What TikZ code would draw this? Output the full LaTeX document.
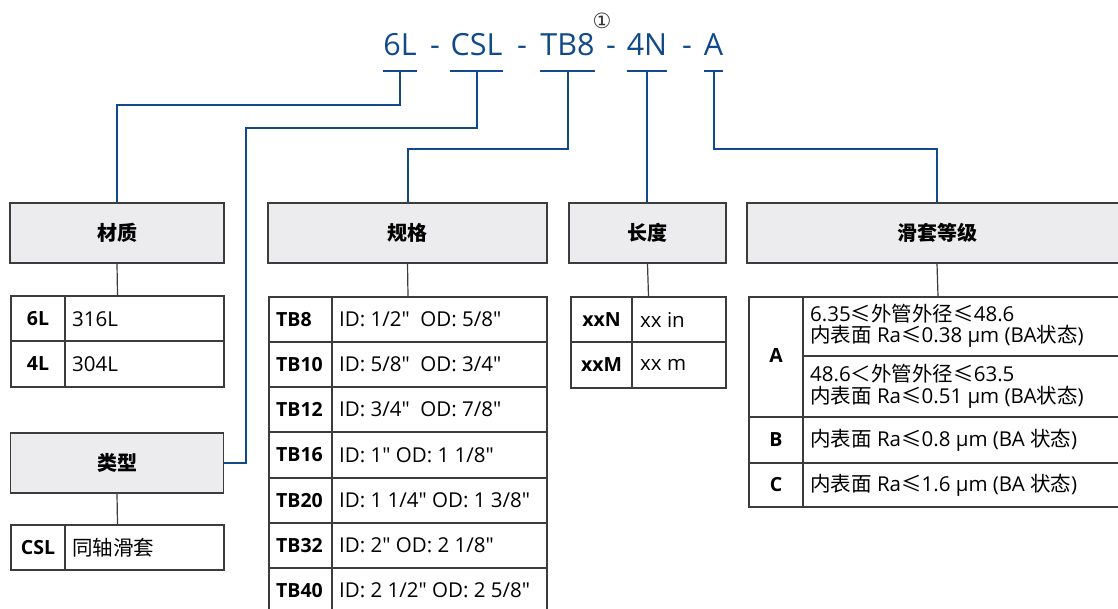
\documentclass[tikz,border=0pt]{standalone}
\usepackage{fontspec}
\setmainfont{Open Sans}[Ligatures=TeXOff]
\newfontfamily\cjk{Noto Sans CJK SC}
\newfontfamily\symfont{DejaVu Sans}
\newcommand\cj[1]{{\cjk #1}}
\usetikzlibrary{backgrounds}
\definecolor{codeblue}{RGB}{16,74,138}
\definecolor{boxgray}{RGB}{236,236,238}
\definecolor{edgegray}{RGB}{60,60,60}
\begin{document}
\begin{tikzpicture}[x=1pt,y=-1pt,
  conn/.style={draw=codeblue, line width=2pt},
  hdr/.style={draw=edgegray, fill=boxgray, line width=1.4pt, inner sep=0pt, minimum height=60pt, font=\cjk\bfseries\fontsize{20}{24}\selectfont},
  tab/.style={draw=edgegray, line width=1.4pt, inner sep=0pt},
  gridl/.style={draw=edgegray, line width=1.2pt},
  link/.style={draw=edgegray, line width=1.2pt},
  keyc/.style={font=\bfseries\fontsize{19.5}{22}\selectfont, inner sep=0pt},
  valc/.style={font=\fontsize{20.5}{19.5}\selectfont, inner sep=0pt, anchor=west, align=left},
  valr/.style={font=\fontsize{20.5}{21.5}\selectfont, inner sep=0pt, anchor=west, align=left},
  code/.style={text=codeblue, font=\fontsize{30.5}{34}\selectfont, inner sep=0pt, anchor=base},
]
\useasboundingbox (0,0) rectangle (1118,609);
\fill[white] (0,0) rectangle (1118,609);

% code
\node[code] (c1) at (400,56) {6L};
\node[code] (d1) at (435,56) {-};
\node[code] (c2) at (476.5,56) {CSL};
\node[code] (d2) at (522,56) {-};
\node[code] (c3) at (567.5,56) {TB8};
\node[code] (d3) at (611,56) {-};
\node[code] (c4) at (647,56) {4N};
\node[code] (d4) at (687,56) {-};
\node[code] (c5) at (713.5,56) {A};
\node[font=\symfont\fontsize{21}{21}\selectfont, text=black!80, inner sep=0pt] (n1) at (602,21) {①};

\foreach \i in {1,...,5}{
  \coordinate (u\i) at (c\i.base |- 0,71);
  \draw[conn] (c\i.west |- 0,71) -- (c\i.east |- 0,71);
}

% headers
\node[hdr, minimum width=214pt] (h1) at (117,233) {材质};
\node[hdr, minimum width=213pt] (h2) at (117,463) {类型};
\node[hdr, minimum width=279pt] (h3) at (407.5,233) {规格};
\node[hdr, minimum width=157pt] (h4) at (647.5,233) {长度};
\node[hdr, minimum width=380pt] (h5) at (937,233) {滑套等级};

% blue connectors
\coordinate (k2) at (246,128);
\draw[conn] (u1) -- ++(0,34) -| (h1.north);
\draw[conn] (u2) |- (k2) |- (h2.east);
\draw[conn] (u3) -- ++(0,78) -| (h3.north);
\draw[conn] (u4) -- (u4 |- h4.north);
\draw[conn] (u5) -- ++(0,78) -| (h5.north);

% tables
\node[tab, minimum width=213pt, minimum height=91pt] (t1) at (117.5,341.5) {};
\node[tab, minimum width=213pt, minimum height=45pt] (t2) at (117.5,547.5) {};
\node[tab, minimum width=278pt, minimum height=316pt] (t3) at (408,455) {};
\node[tab, minimum width=155pt, minimum height=91pt] (t4) at (648.5,342.5) {};
\node[tab, minimum width=378pt, minimum height=210pt] (t5) at (938,402) {};

\begin{scope}[on background layer]
  \fill[boxgray] (11,296) rectangle (65,387);
  \fill[boxgray] (11,525) rectangle (65,570);
  \fill[boxgray] (269,297) rectangle (332,613);
  \fill[boxgray] (571,297) rectangle (632,388);
  \fill[boxgray] (749,297) rectangle (803,507);
\end{scope}

\draw[link] (h1.south) -- (t1.north);
\draw[link] (h2.south) -- (t2.north);
\draw[link] (h3.south) -- (t3.north);
\draw[link] (h4.south) -- (t4.north);
\draw[link] (h5.south) -- (t5.north);

% grid lines
\draw[gridl] (65,296) -- (65,387) (11,341) -- (224,341);
\draw[gridl] (65,525) -- (65,570);
\draw[gridl] (332,297) -- (332,613);
\foreach \y in {342,387,432,478,523,568}{ \draw[gridl] (269,\y) -- (547,\y); }
\draw[gridl] (632,297) -- (632,388) (571,342) -- (726,342);
\draw[gridl] (803,297) -- (803,507) (803,356) -- (1127,356) (749,417) -- (1127,417) (749,463) -- (1127,463);

% table 1
\node[keyc] (k11) at (38,319) {6L};
\node[valc] (v11) at (72,319) {316L};
\node[keyc] (k12) at (38,364) {4L};
\node[valc] (v12) at (72,364) {304L};
% table 2
\node[keyc] (k21) at (38,548) {CSL};
\node[valc] (v21) at (72,548) {\cj{同轴滑套}};
% table 3
\node[keyc, anchor=west] (k31) at (276,319.5) {TB8};
\node[valc] (v31) at (339,319.5) {ID: 1/2" \ OD: 5/8"};
\node[keyc, anchor=west] (k32) at (276,364.5) {TB10};
\node[valc] (v32) at (339,364.5) {ID: 5/8" \ OD: 3/4"};
\node[keyc, anchor=west] (k33) at (276,409.5) {TB12};
\node[valc] (v33) at (339,409.5) {ID: 3/4" \ OD: 7/8"};
\node[keyc, anchor=west] (k34) at (276,455) {TB16};
\node[valc] (v34) at (339,455) {ID: 1" OD: 1 1/8"};
\node[keyc, anchor=west] (k35) at (276,500.5) {TB20};
\node[valc] (v35) at (339,500.5) {ID: 1 1/4" OD: 1 3/8"};
\node[keyc, anchor=west] (k36) at (276,545.5) {TB32};
\node[valc] (v36) at (339,545.5) {ID: 2" OD: 2 1/8"};
\node[keyc, anchor=west] (k37) at (276,590.5) {TB40};
\node[valc] (v37) at (339,590.5) {ID: 2 1/2" OD: 2 5/8"};
% table 4
\node[keyc] (k41) at (601.5,319.5) {xxN};
\node[valc] (v41) at (640,319.5) {xx in};
\node[keyc] (k42) at (601.5,365) {xxM};
\node[valc] (v42) at (640,365) {xx m};
% table 5
\node[keyc] (k51) at (776,356) {A};
\node[valr] (v51) at (810,326) {6.35\cj{≤外管外径≤}48.6\\\cj{内表面} Ra\cj{≤}0.38 µm (BA\cj{状态})};
\node[valr] (v52) at (810,386.5) {48.6\cj{＜外管外径≤}63.5\\\cj{内表面} Ra\cj{≤}0.51 µm (BA\cj{状态})};
\node[keyc] (k53) at (776,440) {B};
\node[valr] (v53) at (810,440) {\cj{内表面} Ra\cj{≤}0.8 µm (BA \cj{状态})};
\node[keyc] (k54) at (776,485) {C};
\node[valr] (v54) at (810,485) {\cj{内表面} Ra\cj{≤}1.6 µm (BA \cj{状态})};
\end{tikzpicture}
\end{document}
